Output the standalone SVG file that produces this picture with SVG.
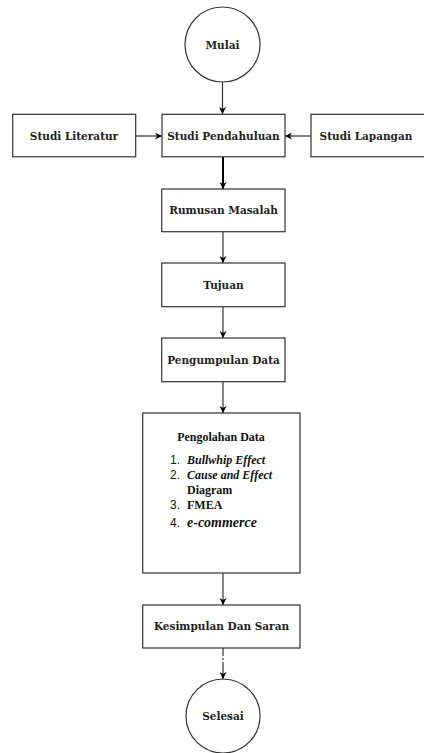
<svg xmlns="http://www.w3.org/2000/svg" width="424" height="753" viewBox="0 0 424 753">
<style>
.box{fill:#fff;stroke:#333;stroke-width:1.2}
.lbl{font-family:"DejaVu Serif",serif;font-weight:bold;font-size:10.5px;fill:#222;text-anchor:middle}
.con{stroke:#333;stroke-width:1.2;fill:none}
.thick{stroke:#000;stroke-width:2}
.ser{font-family:"Liberation Serif","Times New Roman",serif;font-weight:bold;font-size:12px;fill:#111}
.num{font-family:"Liberation Sans",Arial,sans-serif;font-size:12px;fill:#111}
.it{font-style:italic}
</style>
<defs>
<marker id="ah" viewBox="0 0 10 10" refX="10" refY="5" markerWidth="7" markerHeight="7" markerUnits="userSpaceOnUse" orient="auto">
<path d="M0,0 L10,5 L0,10 L3,5 z" fill="#000"/>
</marker>
</defs>
<rect width="424" height="753" fill="#fff"/>
<g id="connectors">
<line class="con" x1="222.5" y1="82" x2="222.5" y2="114" marker-end="url(#ah)"/>
<line class="con" x1="136" y1="136" x2="162" y2="136" marker-end="url(#ah)"/>
<line class="con" x1="311" y1="136" x2="285" y2="136" marker-end="url(#ah)"/>
<line class="con thick" x1="223" y1="157" x2="223" y2="189" marker-end="url(#ah)"/>
<line class="con" x1="223" y1="232" x2="223" y2="263" marker-end="url(#ah)"/>
<line class="con" x1="223" y1="307" x2="223" y2="338" marker-end="url(#ah)"/>
<line class="con" x1="223" y1="382" x2="223" y2="413" marker-end="url(#ah)"/>
<line class="con" x1="223" y1="573" x2="223" y2="605" marker-end="url(#ah)"/>
<line class="con" x1="223" y1="648" x2="223" y2="679" marker-end="url(#ah)" stroke-dasharray="8 2 2 2 100"/>
</g>
<g id="mulai">
<circle class="box" cx="222.5" cy="44.5" r="37.5"/>
<text class="lbl" x="222.5" y="48.5">Mulai</text>
</g>
<g id="studi-literatur">
<rect class="box" x="12.7" y="114.3" width="123" height="42.5"/>
<text class="lbl" x="74" y="139.5">Studi Literatur</text>
</g>
<g id="studi-pendahuluan">
<rect class="box" x="162" y="114.3" width="123" height="42.5"/>
<text class="lbl" x="223.5" y="139.5">Studi Pendahuluan</text>
</g>
<g id="studi-lapangan">
<rect class="box" x="311" y="114.3" width="125" height="42.5"/>
<text class="lbl" x="366" y="139.5">Studi Lapangan</text>
</g>
<g id="rumusan-masalah">
<rect class="box" x="161.7" y="189" width="123.3" height="42.7"/>
<text class="lbl" x="223.5" y="214">Rumusan Masalah</text>
</g>
<g id="tujuan">
<rect class="box" x="161.7" y="263" width="123.3" height="43.7"/>
<text class="lbl" x="223.5" y="288.5">Tujuan</text>
</g>
<g id="pengumpulan-data">
<rect class="box" x="161.7" y="338" width="123.3" height="43.7"/>
<text class="lbl" x="223.5" y="363.5">Pengumpulan Data</text>
</g>
<g id="pengolahan-data">
<rect class="box" x="142.7" y="413" width="157.3" height="160"/>
<text class="ser" x="221" y="441" text-anchor="middle">Pengolahan Data</text>
<text class="num" x="170" y="464">1.</text>
<text class="ser it" x="187" y="464">Bullwhip Effect</text>
<text class="num" x="170" y="479">2.</text>
<text class="ser it" x="187" y="479">Cause and Effect</text>
<text class="ser" x="187" y="494">Diagram</text>
<text class="num" x="170" y="509">3.</text>
<text class="ser" x="187" y="509">FMEA</text>
<text class="num" x="170" y="527">4.</text>
<text class="ser it" x="187" y="527" style="font-size:14px">e-commerce</text>
</g>
<g id="kesimpulan">
<rect class="box" x="142.7" y="605" width="157.3" height="43"/>
<text class="lbl" x="221.5" y="630">Kesimpulan Dan Saran</text>
</g>
<g id="selesai">
<circle class="box" cx="223" cy="716" r="37"/>
<text class="lbl" x="223" y="720">Selesai</text>
</g>
</svg>
